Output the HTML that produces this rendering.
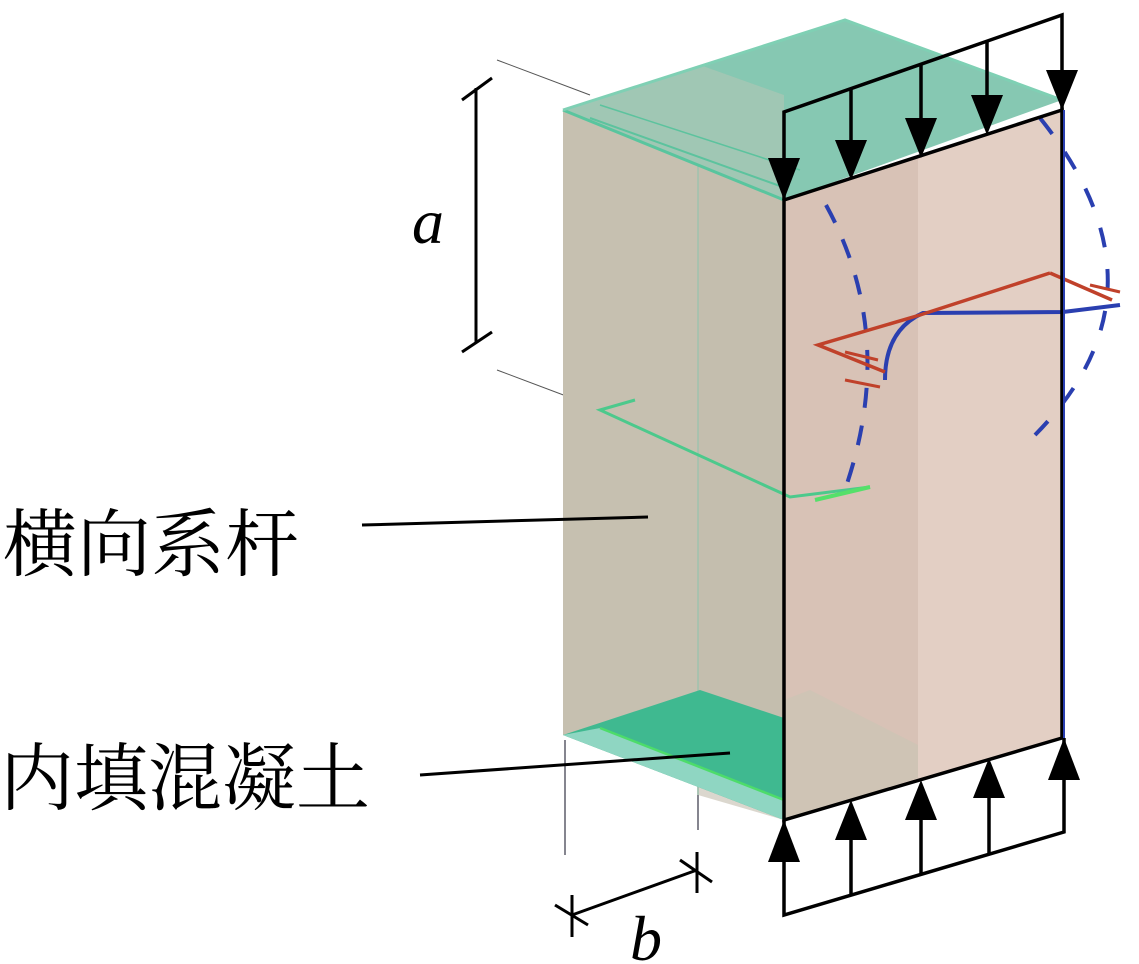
<!DOCTYPE html>
<html><head><meta charset="utf-8"><style>
html,body{margin:0;padding:0;background:#fff;}
svg{display:block;}
</style></head><body>
<svg width="1139" height="964" viewBox="0 0 1139 964" xmlns="http://www.w3.org/2000/svg">
<!-- guide lines -->
<line x1="497" y1="60" x2="590" y2="95" stroke="#555" stroke-width="1"/>
<line x1="497" y1="370" x2="590" y2="405" stroke="#555" stroke-width="1"/>
<line x1="565" y1="740" x2="565" y2="855" stroke="#334" stroke-width="1.2"/>
<line x1="698" y1="730" x2="698" y2="830" stroke="#334" stroke-width="1.2"/>
<!-- left/front face -->
<polygon points="563,110 784,200 784,820 563,735" fill="#c6c0b0"/>
<polygon points="698,68 784,100 784,820 698,795" fill="#c3bcad" opacity="0.6"/>
<line x1="698" y1="68" x2="698" y2="795" stroke="#9fc2ad" stroke-width="1.5"/>
<!-- top face -->
<polygon points="563,110 700,65 845,20 1062,100 784,200" fill="#86c8b2"/>
<polygon points="700,65 784,95 784,200 563,110" fill="#b9c6b5" opacity="0.5"/>
<polyline points="563,110 784,200" stroke="#59c59e" stroke-width="3" fill="none"/>
<polyline points="563,110 845,20 1062,100" stroke="#7fd0b4" stroke-width="3" fill="none"/>
<line x1="590" y1="118" x2="780" y2="186" stroke="#5cc39e" stroke-width="2"/>
<line x1="600" y1="105" x2="800" y2="170" stroke="#5cc39e" stroke-width="1.5"/>
<!-- bottom teal -->
<polygon points="563,735 700,690 784,718 784,820" fill="#3fb990"/>
<polygon points="563,735 600,728 784,800 784,820" fill="#8fd6c2"/>
<line x1="600" y1="728" x2="784" y2="800" stroke="#4ddc6a" stroke-width="2.5"/>
<!-- right face -->
<polygon points="784,200 1062,110 1062,738 784,820" fill="#e3cfc4"/>
<polygon points="784,200 918,157 918,778 784,820" fill="#d8c2b6"/>
<polygon points="784,700 810,690 918,745 918,778 784,820" fill="#c9c4b4" opacity="0.6"/>
<!-- stirrup -->
<polyline points="635,400 600,410 790,497 870,487" stroke="#4cc98c" stroke-width="3" fill="none"/>
<line x1="815" y1="500" x2="870" y2="487" stroke="#55e06a" stroke-width="4"/>
<!-- blue dashed arcs -->
<path d="M826,205 Q900,340 842,498" stroke="#2a3fb0" stroke-width="4" fill="none" stroke-dasharray="20,18"/>
<path d="M1040,118 Q1178,290 1035,435" stroke="#2a3fb0" stroke-width="4" fill="none" stroke-dasharray="20,22"/>
<path d="M885,380 Q885,330 923,313 L1063,312 L1120,305" stroke="#2a3fb0" stroke-width="4" fill="none"/>
<!-- red -->
<polyline points="1050,273 1112,300" stroke="#c0412a" stroke-width="3.5" fill="none"/>
<polyline points="1050,273 920,315 818,345 885,372" stroke="#c0412a" stroke-width="3.5" fill="none"/>
<line x1="845" y1="352" x2="878" y2="360" stroke="#c0412a" stroke-width="3"/>
<line x1="845" y1="380" x2="880" y2="387" stroke="#c0412a" stroke-width="3"/>
<line x1="1090" y1="285" x2="1120" y2="292" stroke="#c0412a" stroke-width="3"/>
<!-- right face outline -->
<polygon points="784,200 1062,110 1062,738 784,820" fill="none" stroke="#000" stroke-width="3.5"/>
<line x1="1064" y1="110" x2="1064" y2="738" stroke="#2a3fb0" stroke-width="2"/>
<!-- top loads -->
<polyline points="784,200 784,112 1062,15 1062,110" fill="none" stroke="#000" stroke-width="3.5"/>
<g stroke="#000" stroke-width="3.5">
<line x1="851" y1="89" x2="851" y2="160"/>
<line x1="921" y1="65" x2="921" y2="135"/>
<line x1="987" y1="42" x2="987" y2="115"/>
</g>
<g fill="#000">
<polygon points="768,158 800,158 784,200"/>
<polygon points="835,140 867,140 851,180"/>
<polygon points="905,118 937,118 921,158"/>
<polygon points="971,95 1003,95 987,135"/>
<polygon points="1046,70 1078,70 1062,110"/>
</g>
<!-- bottom loads -->
<polyline points="784,820 784,915 1064,832 1064,738" fill="none" stroke="#000" stroke-width="3.5"/>
<g stroke="#000" stroke-width="3.5">
<line x1="851" y1="825" x2="851" y2="896"/>
<line x1="921" y1="805" x2="921" y2="875"/>
<line x1="989" y1="785" x2="989" y2="855"/>
</g>
<g fill="#000">
<polygon points="768,862 800,862 784,820"/>
<polygon points="835,840 867,840 851,800"/>
<polygon points="905,820 937,820 921,780"/>
<polygon points="973,798 1005,798 989,758"/>
<polygon points="1048,780 1080,780 1064,738"/>
</g>
<!-- dimension a -->
<line x1="476" y1="88" x2="476" y2="342" stroke="#000" stroke-width="3"/>
<line x1="462" y1="100" x2="492" y2="78" stroke="#000" stroke-width="3"/>
<line x1="462" y1="352" x2="492" y2="332" stroke="#000" stroke-width="3"/>
<text x="412" y="243" font-family="Liberation Serif, serif" font-style="italic" font-size="64">a</text>
<!-- dimension b -->
<line x1="572" y1="915" x2="697" y2="870" stroke="#000" stroke-width="3"/>
<line x1="572" y1="895" x2="572" y2="937" stroke="#000" stroke-width="3"/>
<line x1="555" y1="905" x2="588" y2="925" stroke="#000" stroke-width="3"/>
<line x1="697" y1="852" x2="697" y2="893" stroke="#000" stroke-width="3"/>
<line x1="680" y1="860" x2="712" y2="882" stroke="#000" stroke-width="3"/>
<text x="630" y="960" font-family="Liberation Serif, serif" font-style="italic" font-size="64">b</text>
<!-- labels -->
<text x="3" y="570" font-family="Liberation Serif, 'Noto Serif CJK SC', serif" font-size="74">横向系杆</text>
<line x1="362" y1="525" x2="648" y2="517" stroke="#000" stroke-width="3"/>
<text x="0" y="804" font-family="Liberation Serif, 'Noto Serif CJK SC', serif" font-size="74">内填混凝土</text>
<line x1="420" y1="775" x2="730" y2="753" stroke="#000" stroke-width="3"/>
</svg>
</body></html>
